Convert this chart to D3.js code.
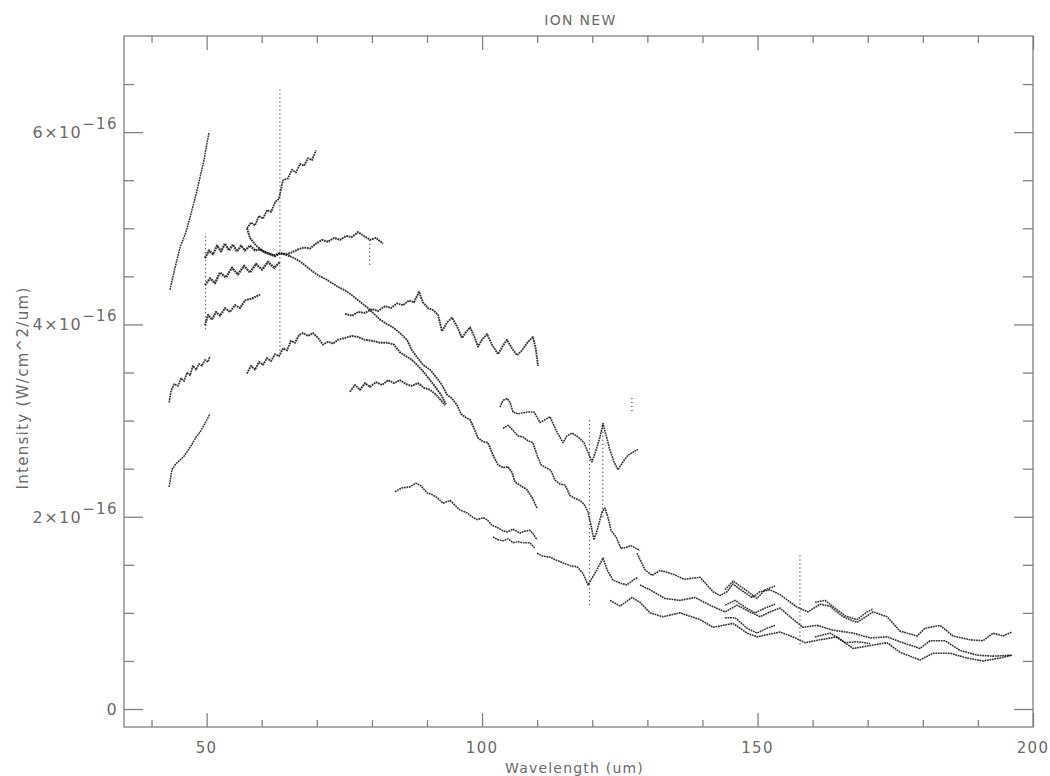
<!DOCTYPE html>
<html><head><meta charset="utf-8">
<script src="https://cdn.jsdelivr.net/npm/d3@7"></script>
<style>
html,body{margin:0;padding:0;background:#fff;}
svg{display:block;}
text{font-family:"DejaVu Sans",sans-serif;fill:#6a6a6a;}
</style></head><body>
<svg id="chart" width="1050" height="776"></svg>
<script>
// ---------------- DATA (wavelength in um, intensity in units of 1e-16 W/cm^2/um) ----------------
const chartTitle = "ION NEW";
const xLabel = "Wavelength (um)";
const yLabel = "Intensity (W/cm^2/um)";
const xMajorTicks = [50, 100, 150, 200];
const xTickLabels = ["50", "100", "150", "200"];
const yMajorTicks = [0, 2, 4, 6];
const yTickMantissa = ["0", "2", "4", "6"];
const yTickExponent = "\u221216";

// SW1 detector (43-51 um)
const segSW1a = [[43.35,4.36],[44.26,4.59],[45.17,4.80],[46.25,4.96],[47.34,5.19],[48.07,5.35],[48.80,5.53],[49.52,5.71],[50.07,5.89],[50.43,5.99]];
const segSW1b = [[43.2,3.19],[43.5,3.30],[44.1,3.38],[44.8,3.36],[45.35,3.44],[45.9,3.41],[46.45,3.50],[47.0,3.47],[47.5,3.57],[48.1,3.53],[48.6,3.59],[49.15,3.57],[49.7,3.63],[50.25,3.61],[50.6,3.67]];
const segSW1c = [[43.2,2.31],[43.7,2.49],[44.4,2.55],[45.2,2.59],[45.9,2.63],[46.6,2.69],[47.3,2.75],[48.1,2.83],[48.8,2.88],[49.5,2.95],[50.25,3.03],[50.6,3.07]];
// SW2 detector (50-65 um)
const segSW2a = [[49.7,4.69],[50.43,4.77],[51.16,4.73],[51.88,4.82],[52.61,4.76],[53.33,4.84],[54.06,4.77],[54.79,4.83],[55.51,4.76],[56.24,4.82],[56.96,4.77],[57.87,4.82],[58.78,4.77],[59.69,4.78],[60.59,4.75],[61.5,4.73],[62.41,4.71],[63.32,4.74],[64.23,4.73],[65.13,4.71]];
const segSW2b = [[49.7,4.41],[50.61,4.48],[51.52,4.43],[52.43,4.54],[53.52,4.49],[54.6,4.59],[55.69,4.52],[56.78,4.61],[57.87,4.54],[58.96,4.63],[60.05,4.57],[61.14,4.65],[62.23,4.59],[63.32,4.65]];
const segSW2c = [[49.7,3.99],[50.25,4.10],[50.97,4.05],[51.7,4.13],[52.43,4.09],[53.33,4.17],[54.24,4.13],[55.15,4.20],[56.06,4.17],[56.96,4.25],[58.23,4.27],[59.69,4.31]];
// SW3 / SW4 detectors (57-82 um)
const segSW3a = [[57.33,5.00],[58.05,5.06],[58.78,5.03],[59.51,5.13],[60.23,5.10],[60.96,5.19],[61.69,5.17],[62.41,5.27],[63.14,5.31],[63.86,5.50],[64.77,5.52],[65.49,5.61],[66.22,5.58],[66.95,5.67],[67.67,5.65],[68.4,5.73],[69.13,5.71],[69.85,5.81]];
const segSW3b = [[57.33,5.00],[57.87,4.90],[58.96,4.82],[60.05,4.77],[61.14,4.74],[62.23,4.72],[63.32,4.74],[64.41,4.73],[65.49,4.75],[66.58,4.78],[67.67,4.80],[68.76,4.79],[69.85,4.84],[70.94,4.88],[72.03,4.86],[73.12,4.90],[74.21,4.88],[75.3,4.92],[76.39,4.91],[77.48,4.96],[78.57,4.92],[79.65,4.88],[80.74,4.90],[82.01,4.84]];
const segSW3c = [[57.33,3.49],[58.05,3.57],[58.78,3.53],[59.51,3.61],[60.23,3.58],[60.96,3.65],[61.69,3.62],[62.41,3.69],[63.14,3.67],[63.86,3.75],[64.59,3.73],[65.31,3.83],[66.04,3.81],[66.77,3.89],[67.49,3.91],[68.4,3.88],[69.31,3.91],[70.22,3.86],[71.12,3.79],[72.03,3.82],[72.94,3.80],[73.85,3.84],[75.12,3.86],[76.39,3.88],[77.48,3.87],[78.75,3.84],[80.02,3.83],[81.47,3.81],[82.92,3.81],[84.01,3.79],[85.1,3.71],[86.19,3.67],[87.28,3.63],[88.37,3.57],[89.46,3.50],[90.55,3.42],[91.64,3.34],[92.54,3.27],[93.45,3.17]];
// long falling spectrum (65-110 um)
const segFall = [[65.13,4.71],[66.22,4.68],[67.31,4.64],[68.4,4.59],[69.49,4.54],[70.58,4.50],[71.67,4.47],[72.76,4.43],[73.85,4.39],[74.93,4.36],[76.02,4.32],[77.11,4.27],[78.2,4.22],[79.29,4.17],[80.2,4.12],[81.47,4.05],[82.56,4.01],[83.83,3.97],[85.1,3.91],[86.37,3.84],[87.28,3.73],[88.19,3.66],[89.27,3.58],[90.55,3.53],[91.82,3.44],[92.72,3.37],[93.63,3.27],[94.54,3.23],[95.45,3.16],[96.17,3.07],[97.08,3.03],[97.81,3.01],[98.53,2.92],[99.26,2.82],[100.17,2.78],[101.07,2.77],[101.98,2.64],[102.89,2.54],[103.8,2.51],[104.7,2.52],[105.43,2.46],[105.97,2.36],[107.06,2.32],[108.15,2.28],[109.06,2.20],[109.97,2.09]];
// SW4/SW5/LW1 upper spectrum (75-110 um)
const segTop = [[75.12,4.11],[76.39,4.09],[77.48,4.13],[78.75,4.12],[80.02,4.16],[81.11,4.14],[82.38,4.19],[83.47,4.17],[84.55,4.22],[85.64,4.20],[86.73,4.25],[87.64,4.23],[88.55,4.34],[89.27,4.23],[90.18,4.17],[91.09,4.15],[92.0,4.10],[92.72,3.93],[93.63,4.02],[94.54,4.07],[95.45,3.98],[96.35,3.86],[97.08,3.92],[97.81,3.97],[98.53,3.88],[99.26,3.77],[99.98,3.84],[100.89,3.90],[101.8,3.79],[102.89,3.69],[103.8,3.78],[104.52,3.84],[105.43,3.75],[106.34,3.68],[107.24,3.73],[108.33,3.82],[109.24,3.87],[109.79,3.73],[110.15,3.57]];
// SW5 (76-93 um)
const segSW5 = [[76.02,3.30],[76.93,3.37],[77.84,3.32],[78.75,3.39],[79.65,3.35],[80.74,3.40],[81.83,3.37],[82.92,3.42],[84.01,3.39],[85.1,3.42],[86.19,3.38],[87.28,3.36],[88.37,3.39],[89.46,3.34],[90.55,3.32],[91.64,3.27],[92.54,3.21],[93.27,3.16]];
// LW1 (84-110 um)
const segLW1a = [[84.19,2.26],[85.46,2.30],[86.91,2.31],[88.0,2.35],[88.91,2.32],[90.0,2.25],[90.91,2.23],[91.82,2.20],[92.91,2.14],[94.18,2.17],[95.08,2.12],[95.99,2.07],[97.26,2.04],[98.17,2.00],[99.08,1.97],[100.17,1.99],[100.89,1.97],[101.8,1.91],[102.71,1.89],[103.61,1.86],[104.52,1.84],[105.61,1.87],[106.88,1.83],[107.79,1.85],[108.7,1.86],[109.42,1.81],[109.97,1.76]];
const segLW1b = [[101.98,1.79],[102.89,1.76],[103.8,1.75],[104.7,1.77],[105.61,1.73],[106.52,1.74],[107.43,1.73],[108.7,1.73],[109.6,1.67]];
// LW2 (103-129 um)
const segLW2a = [[103.25,3.14],[103.8,3.21],[104.52,3.23],[105.07,3.19],[105.61,3.09],[106.52,3.07],[107.43,3.08],[108.33,3.09],[109.42,3.09],[110.51,2.98],[111.42,3.01],[112.33,3.04],[113.42,2.90],[114.69,2.77],[115.41,2.84],[116.32,2.87],[117.41,2.83],[118.5,2.77],[119.23,2.67],[119.95,2.57],[120.68,2.69],[121.41,2.83],[121.95,2.97],[122.5,2.85],[123.22,2.69],[123.94,2.57],[124.67,2.49],[125.58,2.57],[126.49,2.64],[127.39,2.67],[128.3,2.70]];
const segLW2b = [[103.8,2.92],[104.7,2.95],[105.61,2.90],[106.52,2.84],[107.43,2.83],[108.33,2.79],[109.24,2.77],[109.97,2.64],[110.69,2.54],[111.6,2.51],[112.51,2.48],[113.24,2.38],[114.14,2.34],[115.05,2.33],[115.96,2.22],[116.87,2.19],[117.77,2.17],[118.5,2.13],[119.23,2.05],[119.77,1.91],[120.31,1.76],[121.04,1.89],[121.77,2.05],[122.31,2.09],[122.86,1.99],[123.4,1.86],[124.31,1.79],[125.21,1.67],[126.12,1.68],[127.03,1.70],[127.94,1.67],[128.66,1.65]];
const segLW2c = [[109.97,1.62],[111.06,1.59],[112.33,1.58],[113.42,1.55],[114.69,1.52],[115.96,1.49],[117.23,1.48],[118.32,1.41],[119.23,1.29],[119.95,1.36],[120.86,1.45],[121.95,1.57],[122.68,1.45],[123.76,1.34],[125.03,1.31],[126.3,1.29],[127.39,1.34],[128.3,1.37]];
// LW3-LW5 (123-197 um)
const segLongA = [[128.12,1.62],[129.57,1.45],[130.84,1.39],[132.3,1.44],[133.75,1.42],[135.2,1.39],[136.65,1.35],[138.1,1.36],[139.56,1.37],[140.83,1.29],[141.92,1.22],[143.19,1.18],[144.46,1.22],[145.55,1.30],[146.45,1.26],[147.72,1.21],[148.99,1.16],[150.45,1.22],[152.26,1.24],[154.08,1.19],[157.16,1.06],[159.16,1.01],[161.34,1.09],[163.15,1.07],[165.51,0.96],[168.05,0.90],[170.96,1.01],[173.5,0.96],[175.86,0.81],[178.95,0.76],[180.4,0.84],[183.12,0.87],[185.48,0.76],[188.57,0.72],[190.93,0.71],[192.74,0.79],[194.56,0.76],[196.19,0.80]];
const segLongB = [[128.66,1.29],[130.48,1.24],[133.2,1.15],[135.93,1.13],[138.65,1.16],[141.37,1.08],[144.1,1.01],[146.27,1.08],[148.63,1.01],[150.45,0.96],[152.26,1.01],[154.08,1.05],[155.89,0.96],[158.25,0.85],[160.79,0.87],[163.7,0.82],[167.33,0.79],[170.41,0.74],[173.5,0.75],[175.86,0.70],[179.49,0.63],[181.31,0.71],[184.03,0.71],[186.75,0.61],[189.84,0.56],[192.74,0.55],[196.19,0.56]];
const segLongC = [[123.22,1.13],[125.03,1.07],[127.21,1.16],[128.66,1.11],[130.48,1.00],[132.84,0.96],[135.93,1.00],[139.56,0.93],[141.92,0.85],[145.55,0.89],[148.09,0.79],[149.9,0.75],[152.26,0.78],[154.08,0.80],[156.44,0.75],[158.62,0.69],[161.34,0.72],[164.42,0.75],[167.33,0.63],[170.41,0.66],[173.5,0.69],[175.86,0.59],[179.49,0.51],[181.85,0.58],[184.94,0.58],[188.02,0.53],[190.93,0.50],[194.01,0.53],[196.19,0.56]];
// detector overlap pieces
const segOv1 = [[144.1,1.24],[145.55,1.33],[146.82,1.28],[148.27,1.22],[149.9,1.15],[151.36,1.24],[153.17,1.28]];
const segOv2 = [[144.1,1.08],[145.91,1.13],[147.72,1.06],[149.54,1.00],[151.36,1.05],[153.17,1.09]];
const segOv3 = [[144.1,0.95],[145.91,0.95],[148.09,0.84],[149.9,0.79],[151.72,0.84],[153.17,0.87]];
const segOv4 = [[160.43,1.11],[162.25,1.13],[164.06,1.05],[165.88,0.97],[168.05,0.93],[169.87,1.01],[170.96,1.04]];
const segOv5 = [[160.43,0.75],[163.15,0.79],[165.88,0.69],[168.24,0.70],[170.41,0.68]];

// vertical line features [wavelength, low, high]
const lineFeatures = [[63.3,3.73,6.44],[119.5,1.08,3.01],[157.7,0.67,1.62],[79.6,4.62,4.90],[49.8,3.95,4.95],[127.2,3.10,3.26],[121.9,2.0,2.97]];

const segments = [segSW1a, segSW1b, segSW1c, segSW2a, segSW2b, segSW2c, segSW3a, segSW3b, segSW3c,
  segFall, segTop, segSW5, segLW1a, segLW1b, segLW2a, segLW2b, segLW2c,
  segLongA, segLongB, segLongC, segOv1, segOv2, segOv3, segOv4, segOv5];
// stroke weight of each segment's dot trail (noisier detectors look heavier), same order as segments
const segWeight = [1.5, 1.7, 1.5, 2.3, 2.3, 2.1, 1.8, 2.0, 1.9, 1.8, 1.9, 1.9, 1.6, 1.5, 1.6, 1.6, 1.6, 1.6, 1.6, 1.6, 1.5, 1.5, 1.5, 1.5, 1.5];

// ---------------- DRAW ----------------
const svg = d3.select("#chart");
const L = 124, R = 1033, T = 36, B = 727;
const x = d3.scaleLinear().domain([35, 200]).range([L, R]);
const y = d3.scaleLinear().domain([-0.187, 7.0]).range([B, T]);
const axisColor = "#808080";

function styleAxis(g) {
  g.select(".domain").remove();
  g.selectAll(".tick line").attr("stroke", axisColor).attr("stroke-width", 1.3);
  g.selectAll(".tick text").remove();
}

const xMinor = d3.range(40, 200, 10).filter(v => xMajorTicks.indexOf(v) < 0);
const yMinor = d3.range(0.5, 7.0, 0.5).filter(v => yMajorTicks.indexOf(v) < 0);

svg.append("g").attr("transform", `translate(0,${B})`).call(d3.axisBottom(x).tickValues(xMajorTicks).tickSize(-14).tickSizeOuter(0)).call(styleAxis);
svg.append("g").attr("transform", `translate(0,${B})`).call(d3.axisBottom(x).tickValues(xMinor).tickSize(-7).tickSizeOuter(0)).call(styleAxis);
svg.append("g").attr("transform", `translate(0,${T})`).call(d3.axisTop(x).tickValues(xMajorTicks).tickSize(-14).tickSizeOuter(0)).call(styleAxis);
svg.append("g").attr("transform", `translate(0,${T})`).call(d3.axisTop(x).tickValues(xMinor).tickSize(-7).tickSizeOuter(0)).call(styleAxis);
svg.append("g").attr("transform", `translate(${L},0)`).call(d3.axisLeft(y).tickValues(yMajorTicks).tickSize(-19).tickSizeOuter(0)).call(styleAxis);
svg.append("g").attr("transform", `translate(${L},0)`).call(d3.axisLeft(y).tickValues(yMinor).tickSize(-10).tickSizeOuter(0)).call(styleAxis);
svg.append("g").attr("transform", `translate(${R},0)`).call(d3.axisRight(y).tickValues(yMajorTicks).tickSize(-19).tickSizeOuter(0)).call(styleAxis);
svg.append("g").attr("transform", `translate(${R},0)`).call(d3.axisRight(y).tickValues(yMinor).tickSize(-10).tickSizeOuter(0)).call(styleAxis);

svg.append("rect").attr("x", L).attr("y", T).attr("width", R - L).attr("height", B - T)
  .attr("fill", "none").attr("stroke", axisColor).attr("stroke-width", 1.3);

svg.append("g").selectAll("text").data(xMajorTicks).join("text")
  .attr("x", d => x(d)).attr("y", 753).attr("text-anchor", "middle")
  .style("font-size", "15px").style("letter-spacing", "1.3px")
  .text((d, i) => xTickLabels[i]);

const yl = svg.append("g").selectAll("text").data(yMajorTicks).join("text")
  .attr("x", 118).attr("y", d => y(d) + 6).attr("text-anchor", "end")
  .style("font-size", "16px").style("letter-spacing", "1.4px");
yl.each(function(d, i) {
  const t = d3.select(this);
  if (d === 0) { t.text(yTickMantissa[i]); return; }
  t.append("tspan").text(yTickMantissa[i] + "\u00d710");
  t.append("tspan").attr("dy", -9).style("font-size", "15px").text(yTickExponent);
});

svg.append("text").attr("x", (L + R) / 2 + 2).attr("y", 25).attr("text-anchor", "middle")
  .style("font-size", "14px").style("letter-spacing", "1.3px").text(chartTitle);
svg.append("text").attr("x", (L + R) / 2 - 4).attr("y", 773).attr("text-anchor", "middle")
  .style("font-size", "14px").style("letter-spacing", "1.2px").text(xLabel);
svg.append("text").attr("transform", `translate(28,388) rotate(-90)`).attr("text-anchor", "middle")
  .style("font-size", "15px").style("letter-spacing", "1.3px").text(yLabel);

// data: dotted trails
const line = d3.line().x(d => x(d[0])).y(d => y(d[1]));
svg.append("g").selectAll("path").data(segments).join("path")
  .attr("d", line).attr("fill", "none")
  .attr("stroke", "#111").attr("stroke-width", (d, i) => segWeight[i]).attr("stroke-opacity", 0.85)
  .attr("stroke-dasharray", "1.8,0.7").attr("stroke-linejoin", "round");

svg.append("g").selectAll("line").data(lineFeatures).join("line")
  .attr("x1", d => x(d[0])).attr("x2", d => x(d[0]))
  .attr("y1", d => y(d[1])).attr("y2", d => y(d[2]))
  .attr("stroke", "#333").attr("stroke-width", 1.2).attr("stroke-dasharray", "1,3");
</script>
</body></html>
